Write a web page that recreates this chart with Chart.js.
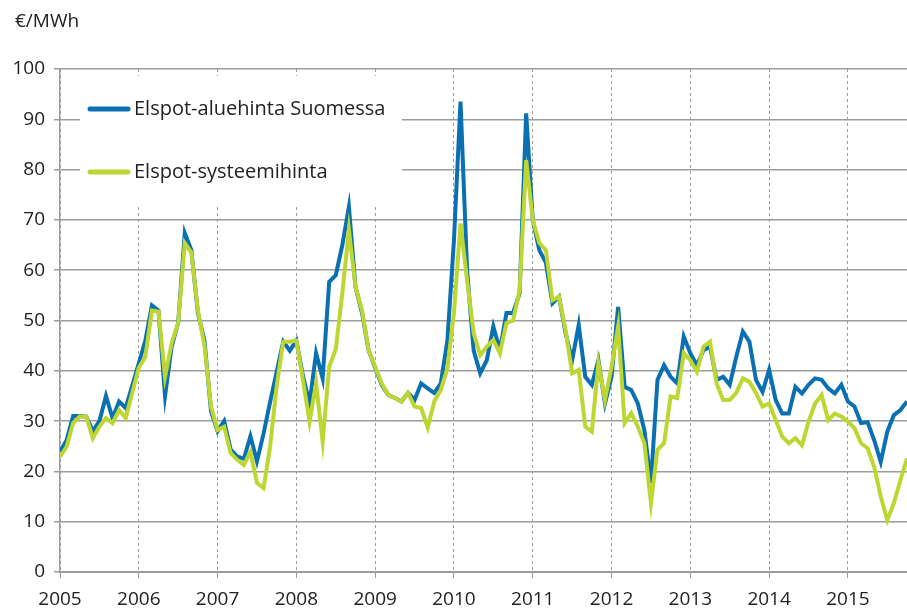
<!DOCTYPE html>
<html>
<head>
<meta charset="utf-8">
<script src="https://cdn.jsdelivr.net/npm/chart.js@4.4.1/dist/chart.umd.min.js"></script>
<style>
  html, body { margin: 0; padding: 0; background: #fff; }
</style>
</head>
<body>
<canvas id="chart" width="907" height="610"></canvas>
<script>
// monthly prices, Jan 2005 - Oct 2015 (€/MWh)
const years = ['2005', '2006', '2007', '2008', '2009', '2010', '2011', '2012', '2013', '2014', '2015'];

const aluehinta = [
    23.9, 26.2, 31, 31, 30.9, 28, 30, 35, 30.6, 33.9, 32.6, 37,
    41.5, 46, 53, 52, 35, 44.8, 49.5, 67.4, 64, 51.5, 46, 32,
    28, 30, 24.3, 23, 22.5, 27, 22, 27.5, 33.8, 39.8, 45.8, 44,
    46, 39, 33.5, 43.5, 38.5, 57.7, 59, 65, 72.6, 56.7, 51.5, 44.1,
    40.6, 37.2, 35.2, 34.6, 33.9, 35.6, 34.2, 37.5, 36.5, 35.6, 37.5, 46,
    66, 93.5, 60, 44, 39.5, 42.1, 48.8, 44.1, 51.5, 51.5, 55.4, 91.2,
    70, 64, 61.5, 53.4, 54.7, 47.5, 42.1, 49.1, 38.8, 37.2, 42.1, 33.5,
    38.8, 52.7, 36.8, 36.2, 33.5, 28.2, 17.7, 38.2, 41.1, 38.8, 37.5, 46.8,
    43.5, 41.1, 44.1, 44.8, 38.2, 38.8, 37.2, 42.8, 47.8, 45.8, 38.2, 35.8,
    40.2, 34.2, 31.5, 31.5, 36.8, 35.5, 37.2, 38.5, 38.2, 36.5, 35.5, 37.2,
    33.9, 32.9, 29.6, 29.8, 26.2, 21.9, 27.9, 31.2, 32.2, 33.9
];

const systeemihinta = [
    22.9, 24.9, 29.6, 30.9, 30.9, 26.6, 28.9, 30.6, 29.6, 32.2, 30.6, 35.6,
    40.6, 42.8, 52, 51.8, 38.8, 45.5, 49.5, 65.4, 63.5, 52, 45, 32.9,
    28.2, 28.9, 23.6, 22.3, 21.3, 23.9, 17.7, 16.7, 24.9, 37, 45.8, 45.8,
    46, 38.2, 29.9, 37.5, 26, 40.8, 44.3, 55.4, 68, 56.7, 52, 44.1,
    40.8, 37.5, 35.2, 34.6, 33.9, 35.6, 32.9, 32.6, 28.7, 33.9, 36.2, 40.5,
    51.5, 69.3, 58, 47.5, 43.1, 44.8, 46.1, 43.5, 49.5, 50, 56, 81.9,
    70, 65.4, 64, 54, 54.7, 48.1, 39.5, 40.2, 28.9, 27.9, 41.5, 34.2,
    40.8, 48.8, 29.6, 31.6, 28.9, 25.6, 13.7, 24.3, 25.6, 34.9, 34.6, 43.5,
    42.1, 39.8, 44.8, 45.8, 37.5, 34.2, 34.2, 35.6, 38.5, 37.8, 35.6, 32.9,
    33.5, 30.2, 26.9, 25.6, 26.6, 25.2, 29.9, 33.5, 35.2, 30.2, 31.5, 30.9,
    29.9, 28.6, 25.6, 24.6, 20.9, 15, 10.3, 13.7, 18.3, 22.6
];

const BLUE = '#0a70b2';
const GREEN = '#bdd631';
const GRID = '#9c9c9c';
const TEXT = '#222';
const FONT = '"Open Sans", sans-serif';

const toPoints = arr => arr.map((v, i) => ({ x: i, y: v }));

// legend box sits inside the plot and hides the grid behind it
const legendBox = {
    id: 'legendBox',
    beforeDatasetsDraw(chart) {
        const ctx = chart.ctx;
        ctx.save();
        ctx.fillStyle = '#fff';
        ctx.fillRect(80, 76, 322, 129);
        const rows = [109, 172];
        chart.data.datasets.forEach((ds, i) => {
            const y = rows[i];
            ctx.strokeStyle = ds.borderColor;
            ctx.lineWidth = 5;
            ctx.lineCap = 'round';
            ctx.beginPath();
            ctx.moveTo(90, y);
            ctx.lineTo(128, y);
            ctx.stroke();
            ctx.fillStyle = TEXT;
            ctx.font = '20px ' + FONT;
            ctx.textBaseline = 'middle';
            ctx.fillText(ds.label, 134, y);
        });
        ctx.font = '19px ' + FONT;
        ctx.fillText('€/MWh', 15, 22);
        ctx.restore();
    }
};

new Chart(document.getElementById('chart'), {
    type: 'line',
    data: {
        datasets: [{
            label: 'Elspot-aluehinta Suomessa',
            data: toPoints(aluehinta),
            borderColor: BLUE,
            borderWidth: 4,
            pointRadius: 0,
            tension: 0,
            order: 2
        }, {
            label: 'Elspot-systeemihinta',
            data: toPoints(systeemihinta),
            borderColor: GREEN,
            borderWidth: 4,
            pointRadius: 0,
            tension: 0,
            order: 1
        }]
    },
    options: {
        responsive: false,
        animation: false,
        layout: { padding: { top: 69, right: 0, bottom: 0, left: 0 } },
        plugins: { legend: { display: false }, tooltip: { enabled: false } },
        scales: {
            x: {
                type: 'linear',
                min: 0,
                max: aluehinta.length - 1,
                afterFit: s => { s.height = 38; },
                afterBuildTicks: s => { s.ticks = s.ticks.filter(t => t.value % 12 === 0); },
                ticks: {
                    stepSize: 12,
                    autoSkip: false,
                    maxRotation: 0,
                    padding: 10,
                    color: TEXT,
                    font: { family: FONT, size: 19 },
                    callback: v => years[v / 12]
                },
                grid: { color: GRID, lineWidth: 1, tickLength: 6 },
                border: { color: GRID, width: 2, dash: [3, 3] }
            },
            y: {
                min: 0,
                max: 100,
                afterFit: s => { s.width = 60; },
                ticks: {
                    stepSize: 10,
                    padding: 9,
                    color: TEXT,
                    font: { family: FONT, size: 19 }
                },
                grid: { color: GRID, lineWidth: 1.5, tickLength: 6 },
                border: { color: GRID, width: 1.5 }
            }
        }
    },
    plugins: [legendBox]
});
</script>
</body>
</html>
